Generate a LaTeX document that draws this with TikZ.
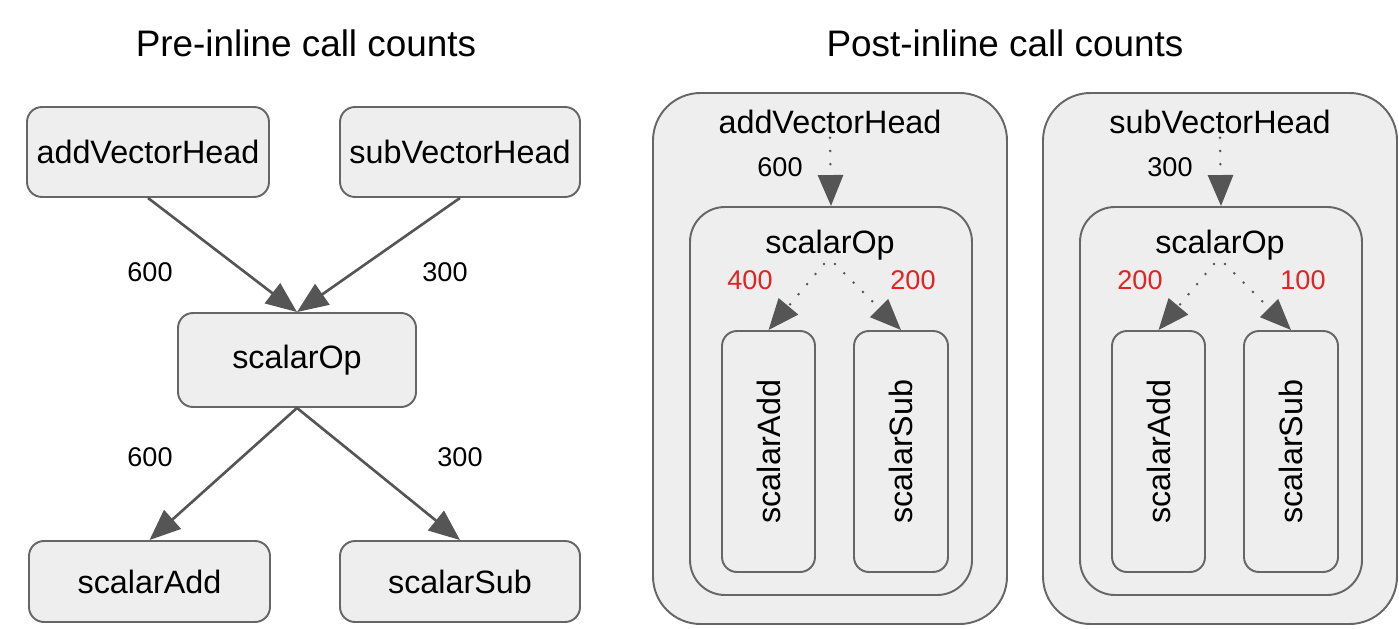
\documentclass[tikz,border=0pt]{standalone}
\usepackage{fontspec}
\setmainfont{Liberation Sans}
\usepackage{xcolor}
\definecolor{cgfill}{RGB}{238,238,238}
\definecolor{cgline}{RGB}{102,102,102}
\definecolor{cgarrow}{RGB}{85,85,85}
\definecolor{cgred}{RGB}{225,35,35}
\usepackage{tikz}
\usetikzlibrary{arrows.meta, positioning}

\begin{document}
\begin{tikzpicture}[
    fnbox/.style={draw=cgline, fill=cgfill, line width=1.1pt, rounded corners=0.3cm,
      inner sep=0pt, font=\fontsize{18.4}{22}\selectfont},
    group/.style={draw=cgline, fill=cgfill, line width=1.1pt, inner sep=0pt},
    fntext/.style={inner sep=2pt, font=\fontsize{18.4}{22}\selectfont},
    title/.style={font=\fontsize{21}{25}\selectfont},
    cnt/.style={font=\fontsize{15.4}{18}\selectfont},
    cntred/.style={cnt, text=cgred},
    call/.style={-{Triangle[length=0.62cm, width=0.5cm]}, cgarrow, line width=1.5pt},
    inlined/.style={call, line width=1.6pt, line cap=round, dash pattern=on 0pt off 7.5pt}
  ]
\useasboundingbox (0,0) rectangle (27.98,-12.56);

% Titles
\node[title] (pretitle) at (6.12,-0.86) {Pre-inline call counts};
\node[title] (posttitle) at (20.1,-0.86) {Post-inline call counts};

% Pre-inline call graph
\node[fnbox, minimum width=4.84cm, minimum height=1.8cm] (avh) at (2.96,-3.04) {addVectorHead};
\node[fnbox, minimum width=4.8cm, minimum height=1.8cm] (svh) at (9.2,-3.04) {subVectorHead};
\node[fnbox, minimum width=4.76cm, minimum height=1.88cm] (sop) at (5.94,-7.2) {scalarOp};
\node[fnbox, minimum width=4.82cm, minimum height=1.62cm] (sadd) at (2.99,-11.63) {scalarAdd};
\node[fnbox, minimum width=4.8cm, minimum height=1.62cm] (ssub) at (9.2,-11.63) {scalarSub};

\draw[call] (avh.south) -- (sop.north);
\draw[call] (svh.south) -- (sop.north);
\draw[call] (sop.south) -- (sadd.north);
\draw[call] (sop.south) -- (ssub.north);

\node[cnt] (avhcnt) at (3.0,-5.44) {600};
\node[cnt] (svhcnt) at (8.9,-5.44) {300};
\node[cnt] (saddcnt) at (3.0,-9.14) {600};
\node[cnt] (ssubcnt) at (9.2,-9.14) {300};

% Post-inline: addVectorHead
\node[group, rounded corners=0.95cm, minimum width=7.08cm, minimum height=10.62cm] (outera) at (16.6,-7.17) {};
\node[fntext] (avht) at (16.6,-2.44) {addVectorHead};
\node[group, rounded corners=0.7cm, minimum width=5.64cm, minimum height=7.76cm] (innera) at (16.62,-8.02) {};
\node[fntext] (sopa) at (16.6,-4.9) {scalarOp};
\node[fnbox, minimum width=4.82cm, minimum height=1.86cm, rotate=90] (adda) at (15.37,-9.03) {scalarAdd};
\node[fnbox, minimum width=4.82cm, minimum height=1.88cm, rotate=90] (suba) at (18.02,-9.03) {scalarSub};

\draw[inlined] (avht.south) -- (innera.north);
\draw[inlined] ([xshift=-0.12cm]sopa.south) -- (adda.east);
\draw[inlined] ([xshift=0.1cm]sopa.south) -- (suba.east);

\node[cnt] (avhtcnt) at (15.6,-3.34) {600};
\node[cntred] (addacnt) at (15.0,-5.6) {400};
\node[cntred] (subacnt) at (18.26,-5.6) {200};

% Post-inline: subVectorHead
\node[group, rounded corners=0.95cm, minimum width=7.08cm, minimum height=10.62cm] (outerb) at (24.4,-7.17) {};
\node[fntext] (svht) at (24.4,-2.44) {subVectorHead};
\node[group, rounded corners=0.7cm, minimum width=5.64cm, minimum height=7.76cm] (innerb) at (24.42,-8.02) {};
\node[fntext] (sopb) at (24.4,-4.9) {scalarOp};
\node[fnbox, minimum width=4.82cm, minimum height=1.86cm, rotate=90] (addb) at (23.17,-9.03) {scalarAdd};
\node[fnbox, minimum width=4.82cm, minimum height=1.88cm, rotate=90] (subb) at (25.82,-9.03) {scalarSub};

\draw[inlined] (svht.south) -- (innerb.north);
\draw[inlined] ([xshift=-0.12cm]sopb.south) -- (addb.east);
\draw[inlined] ([xshift=0.1cm]sopb.south) -- (subb.east);

\node[cnt] (svhtcnt) at (23.4,-3.34) {300};
\node[cntred] (addbcnt) at (22.8,-5.6) {200};
\node[cntred] (subbcnt) at (26.06,-5.6) {100};

\end{tikzpicture}
\end{document}
